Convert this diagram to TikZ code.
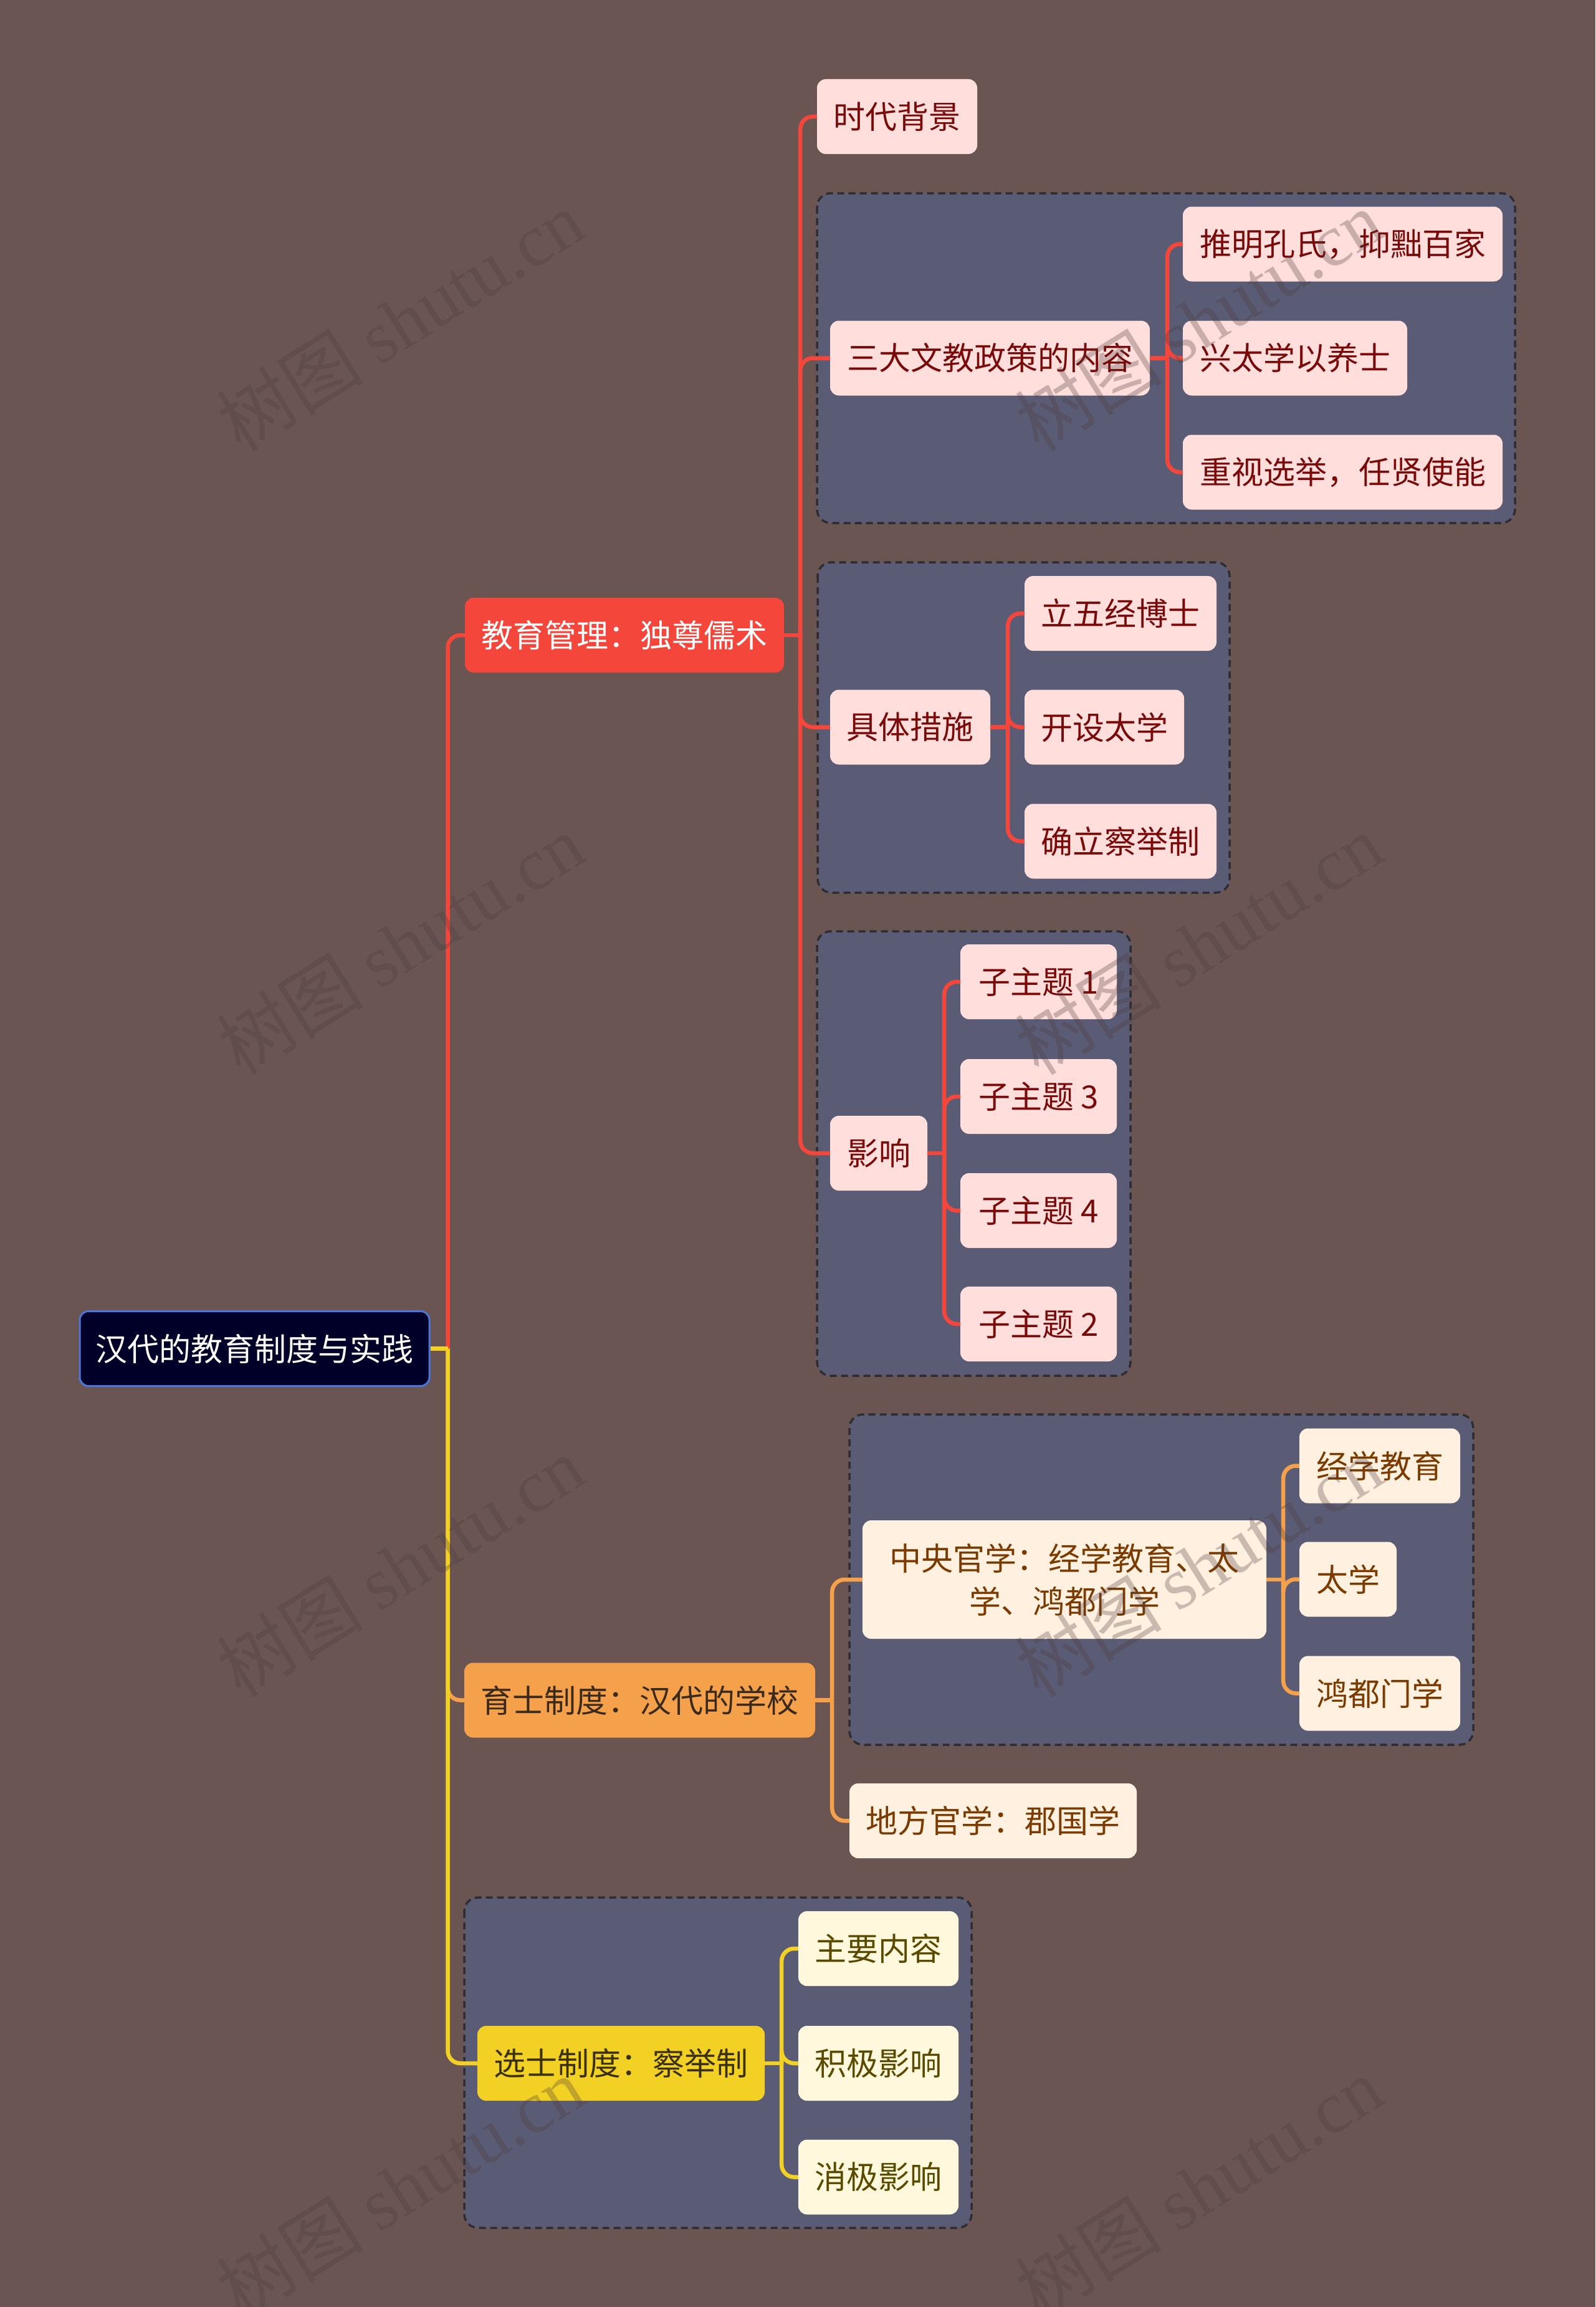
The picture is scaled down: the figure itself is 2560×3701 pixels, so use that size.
\documentclass[tikz,border=0pt]{standalone}
\usepackage{fontspec}
\usetikzlibrary{calc}
\setmainfont{Noto Sans CJK SC}
\newfontfamily\wmlat{Liberation Serif}
\definecolor{bgc}{HTML}{6A5553}
\definecolor{grpfill}{HTML}{5A5B75}
\definecolor{grpborder}{HTML}{2E2E32}
\definecolor{rootfill}{HTML}{000028}
\definecolor{rootborder}{HTML}{4A78D8}
\definecolor{redc}{HTML}{F5463C}
\definecolor{orgc}{HTML}{F5A04A}
\definecolor{orgtext}{HTML}{3A2A1C}
\definecolor{yelc}{HTML}{F2D024}
\definecolor{yeltext}{HTML}{3A3000}
\definecolor{pinkfill}{HTML}{FFDEDB}
\definecolor{pinktext}{HTML}{7A0A0A}
\definecolor{creamfill}{HTML}{FFF0E0}
\definecolor{creamtext}{HTML}{7A3A00}
\definecolor{lyelfill}{HTML}{FFF8DC}
\definecolor{lyeltext}{HTML}{5A4A00}
\definecolor{wmc}{HTML}{4E3C3C}
\begin{document}
\begin{tikzpicture}[x=1pt,y=-1pt,
  base/.style={rounded corners=14pt, inner sep=0pt, minimum height=120pt, align=center, font=\fontsize{51}{69}\selectfont},
  rootn/.style={base, fill=rootfill, draw=rootborder, line width=3pt, text=white},
  lred/.style={base, fill=redc, text=white},
  lorg/.style={base, fill=orgc, text=orgtext},
  lyel/.style={base, fill=yelc, text=yeltext},
  pinkn/.style={base, fill=pinkfill, text=pinktext},
  creamn/.style={base, fill=creamfill, text=creamtext},
  lyeln/.style={base, fill=lyelfill, text=lyeltext},
  grp/.style={draw=grpborder, fill=grpfill, line width=3.5pt, dash pattern=on 11pt off 7pt, rounded corners=22pt},
  cred/.style={draw=redc, line width=6.5pt},
  corg/.style={draw=orgc, line width=6.5pt},
  cyel/.style={draw=yelc, line width=6.5pt},
  rc/.style={rounded corners=20pt},
  wm/.style={text=wmc, opacity=0.3, rotate=32, inner sep=0pt, font=\fontsize{118}{118}\selectfont}
]
\useasboundingbox (0,0) rectangle (2560,3701);
\fill[bgc] (0,0) rectangle (2560,3701);

% groups
\draw[grp] (1311,310) rectangle (2431,839);
\draw[grp] (1312,902) rectangle (1973,1432);
\draw[grp] (1311,1494) rectangle (1814,2207);
\draw[grp] (1363,2269) rectangle (2364,2799);
\draw[grp] (745,3044) rectangle (1559,3574);

% nodes
\node[rootn, minimum width=561pt] (root) at (408.5,2163.5) {汉代的教育制度与实践};
\node[lred, minimum width=512pt] (A) at (1002,1019) {教育管理：独尊儒术};
\node[lorg, minimum width=563pt] (B) at (1026.5,2727.5) {育士制度：汉代的学校};
\node[lyel, minimum width=461pt] (C) at (996.5,3310) {选士制度：察举制};

\node[pinkn, minimum width=257pt] (a1) at (1439.5,187) {时代背景};
\node[pinkn, minimum width=513pt] (a2) at (1588.5,574.5) {三大文教政策的内容};
\node[pinkn, minimum width=513pt] (a21) at (2154.5,391.5) {推明孔氏，抑黜百家};
\node[pinkn, minimum width=360pt] (a22) at (2078,574.5) {兴太学以养士};
\node[pinkn, minimum width=513pt] (a23) at (2154.5,757.5) {重视选举，任贤使能};
\node[pinkn, minimum width=257pt] (a3) at (1460.5,1166.5) {具体措施};
\node[pinkn, minimum width=308pt] (a31) at (1798,984) {立五经博士};
\node[pinkn, minimum width=256pt] (a32) at (1772,1166.5) {开设太学};
\node[pinkn, minimum width=308pt] (a33) at (1798,1349.5) {确立察举制};
\node[pinkn, minimum width=156pt] (a4) at (1410,1850) {影响};
\node[pinkn, minimum width=251pt] (a41) at (1666.5,1575) {子主题 1};
\node[pinkn, minimum width=251pt] (a42) at (1666.5,1759) {子主题 3};
\node[pinkn, minimum width=251pt] (a43) at (1666.5,1942) {子主题 4};
\node[pinkn, minimum width=251pt] (a44) at (1666.5,2124) {子主题 2};

\node[creamn, minimum width=648pt, minimum height=190pt] (b1) at (1708,2534) {中央官学：经学教育、太\\学、鸿都门学};
\node[creamn, minimum width=258pt] (b11) at (2214,2351.5) {经学教育};
\node[creamn, minimum width=156pt] (b12) at (2163,2533.5) {太学};
\node[creamn, minimum width=258pt] (b13) at (2214,2716.5) {鸿都门学};
\node[creamn, minimum width=461pt] (b2) at (1593.5,2921) {地方官学：郡国学};

\node[lyeln, minimum width=257pt] (c1) at (1409.5,3126) {主要内容};
\node[lyeln, minimum width=257pt] (c2) at (1409.5,3310) {积极影响};
\node[lyeln, minimum width=257pt] (c3) at (1409.5,3492.5) {消极影响};

% connectors: root
\coordinate (rj) at ($(root.east)+(28,0)$);
\draw[cred, rc] (rj) |- (A.west);
\draw[corg, rc] (rj) |- (B.west);
\draw[cyel] (root.east) -- (rj);
\draw[cyel, rc] (rj) |- (C.west);

% A
\draw[cred] (A.east) -- ++(26,0) coordinate (Aj);
\foreach \c in {a1,a2,a3,a4} \draw[cred, rc] (Aj) |- (\c.west);
\draw[cred] (a2.east) -- ++(28,0) coordinate (a2j);
\foreach \c in {a21,a22,a23} \draw[cred, rc] (a2j) |- (\c.west);
\draw[cred] (a3.east) -- ++(28,0) coordinate (a3j);
\foreach \c in {a31,a32,a33} \draw[cred, rc] (a3j) |- (\c.west);
\draw[cred] (a4.east) -- ++(27,0) coordinate (a4j);
\foreach \c in {a41,a42,a43,a44} \draw[cred, rc] (a4j) |- (\c.west);

% B
\draw[corg] (B.east) -- ++(27,0) coordinate (Bj);
\foreach \c in {b1,b2} \draw[corg, rc] (Bj) |- (\c.west);
\draw[corg] (b1.east) -- ++(27,0) coordinate (b1j);
\foreach \c in {b11,b12,b13} \draw[corg, rc] (b1j) |- (\c.west);

% C
\draw[cyel] (C.east) -- ++(27,0) coordinate (Cj);
\foreach \c in {c1,c2,c3} \draw[cyel, rc] (Cj) |- (\c.west);

% watermarks
\foreach \wx in {642,1923} {
  \foreach \wy in {514,1515,2513,3509} {
    \node[wm] (wm\wx\wy) at (\wx,\wy) {树图 {\wmlat shutu.cn}};
  }
}
\end{tikzpicture}
\end{document}
